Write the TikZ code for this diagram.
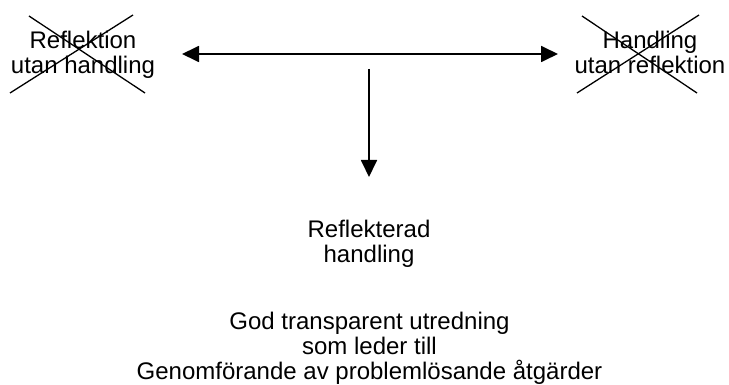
\documentclass[tikz,border=0pt]{standalone}
\usepackage{fontspec}
\setmainfont{Liberation Sans}
\usetikzlibrary{arrows.meta}
\begin{document}
\begin{tikzpicture}[x=1pt,y=-1pt,
  % labels are placed by the baseline of their last line
  label/.style={align=center,inner sep=0pt,anchor=base,
    font=\fontsize{24}{25}\selectfont},
  cross/.style={line width=1.3pt},
  link/.style={line width=1.8pt,-{Triangle[length=17pt,width=16pt]}},
  bilink/.style={line width=1.8pt,{Triangle[length=17pt,width=16pt]}-{Triangle[length=17pt,width=16pt]}}]
\useasboundingbox (0,0) rectangle (729,385);

% rejected extremes, each struck through
\node[label] (reflonly) at (83,74) {Reflektion\\utan handling};
\draw[cross] (29,16) -- (145,93);
\draw[cross] (10,93) -- (133,15);

\node[label] (actonly) at (650,74) {Handling\\utan reflektion};
\draw[cross] (582,16) -- (697,93);
\draw[cross] (577,93) -- (699,15);

% the span between the two extremes
\coordinate (spanL) at (182,54);
\coordinate (spanR) at (558,54);
\draw[bilink] (spanL) -- (spanR);

% the middle way
\coordinate (mid) at (369,69);
\coordinate (midend) at (369,177);
\draw[link] (mid) -- (midend);

\node[label] (reflact) at (369,262) {Reflekterad\\handling};
\node[label] (result) at (369.5,379)
  {God transparent utredning\\som leder till\\Genomförande av problemlösande åtgärder};
\end{tikzpicture}
\end{document}
